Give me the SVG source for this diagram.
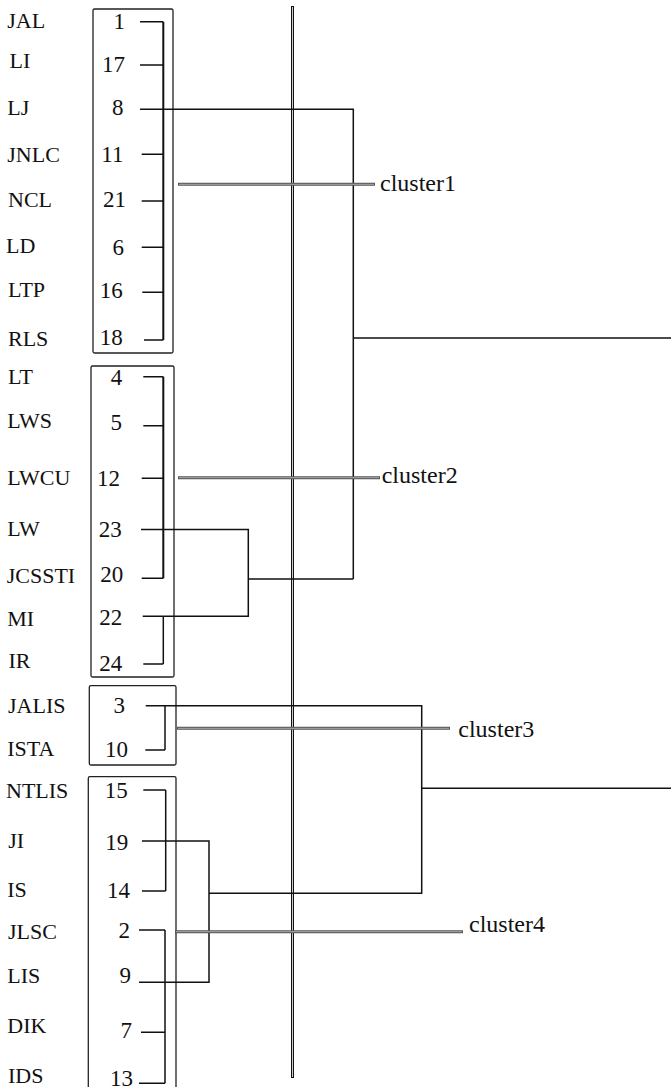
<svg xmlns="http://www.w3.org/2000/svg" width="671" height="1087" viewBox="0 0 671 1087">
<style>
.lab{font-family:'Liberation Serif','Times New Roman',serif;font-size:22px;fill:#111}
.num{font-family:'Liberation Serif','Times New Roman',serif;font-size:23px;text-anchor:end;fill:#111}
.cl{font-family:'Liberation Serif','Times New Roman',serif;font-size:24px;fill:#111}
.box{fill:none;stroke:#222;stroke-width:1.3}
.leaf{stroke:#111;stroke-width:1.5;fill:none}
.br{stroke:#111;stroke-width:2;fill:none}
.cn{stroke:#111;stroke-width:1.5;fill:none}
.gout{stroke:#555;stroke-width:3;fill:none}
.gin{stroke:#aaa;stroke-width:1;fill:none}
.vout{stroke:#111;stroke-width:3;fill:none}
.vin{stroke:#ccc;stroke-width:1;fill:none}
</style>
<rect width="671" height="1087" fill="#fff"/>
<g id="axis">
<line class="vout" x1="292.5" y1="6" x2="292.5" y2="1078"/>
<line class="vin" x1="292.5" y1="7" x2="292.5" y2="1077"/>
</g>
<g id="box1"><rect class="box" x="93" y="9" width="80" height="344" rx="1.5"/></g>
<g id="box2"><rect class="box" x="91" y="366" width="83" height="311" rx="1.5"/></g>
<g id="box3"><rect class="box" x="89.3" y="685.7" width="86.7" height="79.3" rx="1.5"/></g>
<g id="box4"><rect class="box" x="88.3" y="776.7" width="87.7" height="400" rx="1.5"/></g>
<g id="leaves">
<g id="leaf-JAL"><text class="lab" x="7.3" y="28.3">JAL</text><text class="num" x="125" y="29.3">1</text></g>
<g id="leaf-LI"><text class="lab" x="9.5" y="68.3">LI</text><text class="num" x="125" y="71.7">17</text></g>
<g id="leaf-LJ"><text class="lab" x="7.3" y="115">LJ</text><text class="num" x="123.5" y="115">8</text></g>
<g id="leaf-JNLC"><text class="lab" x="7.3" y="161.7">JNLC</text><text class="num" x="123.5" y="161.7">11</text></g>
<g id="leaf-NCL"><text class="lab" x="8" y="206.7">NCL</text><text class="num" x="126" y="206.7">21</text></g>
<g id="leaf-LD"><text class="lab" x="6" y="253.3">LD</text><text class="num" x="124" y="255">6</text></g>
<g id="leaf-LTP"><text class="lab" x="8" y="297.3">LTP</text><text class="num" x="122.7" y="298.3">16</text></g>
<g id="leaf-RLS"><text class="lab" x="8" y="345.7">RLS</text><text class="num" x="122.7" y="345">18</text></g>
<g id="leaf-LT"><text class="lab" x="8" y="384">LT</text><text class="num" x="122.3" y="385">4</text></g>
<g id="leaf-LWS"><text class="lab" x="7.3" y="428.3">LWS</text><text class="num" x="122" y="430">5</text></g>
<g id="leaf-LWCU"><text class="lab" x="7.3" y="485">LWCU</text><text class="num" x="120" y="486">12</text></g>
<g id="leaf-LW"><text class="lab" x="7.3" y="536">LW</text><text class="num" x="121.7" y="536.7">23</text></g>
<g id="leaf-JCSSTI"><text class="lab" x="6.7" y="582.7">JCSSTI</text><text class="num" x="123.3" y="581.7">20</text></g>
<g id="leaf-MI"><text class="lab" x="7.3" y="626">MI</text><text class="num" x="122.3" y="625">22</text></g>
<g id="leaf-IR"><text class="lab" x="8.5" y="668.3">IR</text><text class="num" x="122.3" y="670.7">24</text></g>
<g id="leaf-JALIS"><text class="lab" x="8" y="712.7">JALIS</text><text class="num" x="125" y="713.3">3</text></g>
<g id="leaf-ISTA"><text class="lab" x="7.3" y="756">ISTA</text><text class="num" x="128" y="757.3">10</text></g>
<g id="leaf-NTLIS"><text class="lab" x="6" y="798.3">NTLIS</text><text class="num" x="127.7" y="798.3">15</text></g>
<g id="leaf-JI"><text class="lab" x="8.3" y="848.3">JI</text><text class="num" x="128.3" y="850">19</text></g>
<g id="leaf-IS"><text class="lab" x="7.3" y="896.7">IS</text><text class="num" x="130" y="898.3">14</text></g>
<g id="leaf-JLSC"><text class="lab" x="8" y="939.3">JLSC</text><text class="num" x="130" y="938.3">2</text></g>
<g id="leaf-LIS"><text class="lab" x="7.3" y="982.7">LIS</text><text class="num" x="131" y="983.3">9</text></g>
<g id="leaf-DIK"><text class="lab" x="7.3" y="1033.3">DIK</text><text class="num" x="132" y="1038.3">7</text></g>
<g id="leaf-IDS"><text class="lab" x="8" y="1082.7">IDS</text><text class="num" x="133" y="1086">13</text></g>
</g>
<g id="connectors">
<path class="leaf" d="M140 21.7H163.3M140 65H163.3M140 109.3H163.3M141.7 154.3H163.3M141.7 201H163.3M141.7 247.3H163.3M142.3 292.3H163.3M144 340H163.3"/>
<path class="br" d="M163.3 21.7V340"/>
<path class="leaf" d="M143.3 376.7H163.3M143.3 425.7H163.3M141.7 478.3H163.3M141 529.5H163.3M141.7 578.3H163.3M142.7 616.3H163.3M143.3 664H163.3"/>
<path class="br" d="M163.3 376.7V578.3"/>
<path class="cn" d="M163.3 616.3V664"/>
<path class="leaf" d="M145.7 705.7H165M145.3 750H165"/>
<path class="cn" d="M165 705.7V750"/>
<path class="leaf" d="M143.3 790H165.7M142 891H165.7M139 930H165M141 1032.3H165M139 1083.3H165"/>
<path class="cn" d="M165.7 790V891M165 930V1083.3"/>
<path class="cn" d="M163.3 529.5H248.3V616.3H163.3M248.3 579H353.3M163.3 109.3H353.3V579M353.3 338H671"/>
<path class="cn" d="M165 705.7H421.7V893.3H209M142 841H209V982.3H139M421.7 788.3H671"/>
<path class="gout" d="M178 184.3H375M178 477.7H380M177 728.3H450M175 931.7H463"/>
<path class="gin" d="M179 184.3H374M179 477.7H379M178 728.3H449M176 931.7H462"/>
</g>
<g id="clusters">
<g id="cluster1"><text class="cl" x="380" y="191">cluster1</text></g>
<g id="cluster2"><text class="cl" x="381.7" y="483.3">cluster2</text></g>
<g id="cluster3"><text class="cl" x="458.3" y="736.7">cluster3</text></g>
<g id="cluster4"><text class="cl" x="469" y="932">cluster4</text></g>
</g>
</svg>
